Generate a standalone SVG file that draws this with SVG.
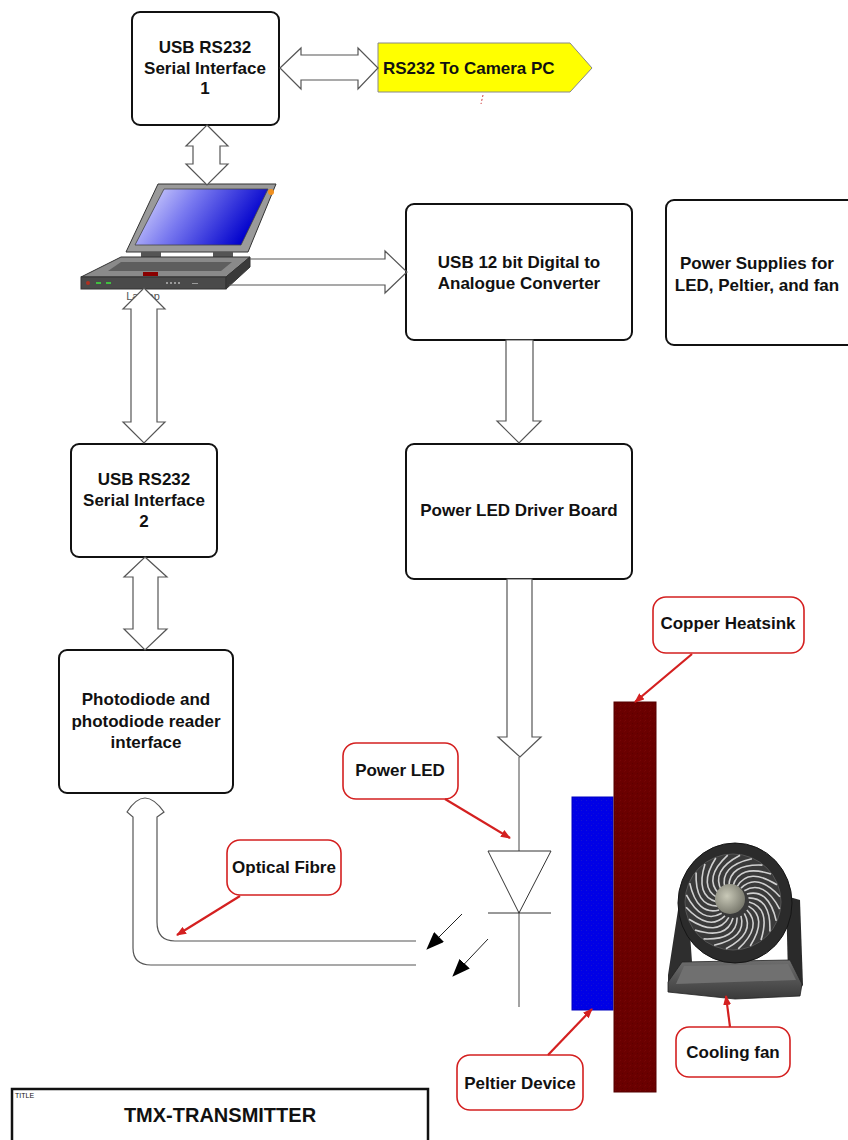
<svg xmlns="http://www.w3.org/2000/svg" xmlns:xlink="http://www.w3.org/1999/xlink" width="848" height="1140" viewBox="0 0 848 1140">
  <style>
    .box { fill: #ffffff; stroke: #111111; stroke-width: 2; }
    .lbl { font-family: "Liberation Sans", Arial, sans-serif; font-weight: bold; font-size: 17px; fill: #111111; text-anchor: middle; }
    .call { fill: #ffffff; stroke: #d42020; stroke-width: 1.6; }
    .ptr { stroke: #d42020; stroke-width: 2.2; fill: none; marker-end: url(#redHead); }
    .fat { fill: #ffffff; stroke: #555555; stroke-width: 1.2; stroke-linejoin: miter; }
    .wire { fill: none; stroke: #555555; stroke-width: 1.2; }
    .emit { stroke: #222222; stroke-width: 1; fill: none; marker-end: url(#blackHead); }
  </style>
  <defs>
    <marker id="redHead" markerWidth="10" markerHeight="8" refX="9" refY="4" orient="auto" markerUnits="userSpaceOnUse">
      <path d="M0,0 L10,4 L0,8 Z" fill="#d42020"/>
    </marker>
    <marker id="blackHead" markerWidth="18" markerHeight="14" refX="17" refY="7" orient="auto" markerUnits="userSpaceOnUse">
      <path d="M0,0 L18,7 L0,14 Z" fill="#000000"/>
    </marker>
    <linearGradient id="screenGrad" x1="0" y1="0" x2="1" y2="0.3">
      <stop offset="0" stop-color="#e8e8ff"/>
      <stop offset="0.45" stop-color="#7a7af0"/>
      <stop offset="1" stop-color="#0000cc"/>
    </linearGradient>
    <radialGradient id="hubGrad" cx="0.4" cy="0.4" r="0.6">
      <stop offset="0" stop-color="#c9c9b8"/>
      <stop offset="1" stop-color="#7c7c70"/>
    </radialGradient>
    <linearGradient id="baseGrad" x1="0" y1="0" x2="0" y2="1">
      <stop offset="0" stop-color="#6e6e6e"/>
      <stop offset="1" stop-color="#3a3a3a"/>
    </linearGradient>
    <pattern id="copperTex" width="5" height="5" patternUnits="userSpaceOnUse">
      <rect width="5" height="5" fill="#6a0000"/>
      <rect x="0" y="0" width="1" height="1" fill="#760606"/>
      <rect x="2" y="3" width="1" height="1" fill="#5c0000"/>
      <rect x="4" y="1" width="1" height="1" fill="#720404"/>
    </pattern>
    <pattern id="peltierTex" width="5" height="5" patternUnits="userSpaceOnUse">
      <rect width="5" height="5" fill="#0000e6"/>
      <rect x="1" y="0" width="1" height="1" fill="#1414d2"/>
      <rect x="3" y="3" width="1" height="1" fill="#0c0cd8"/>
    </pattern>
    <path id="blade" d="M16,0 Q38,6 28,38" fill="none" stroke="#d0d0d0" stroke-width="1.6"/>
  </defs>

  <rect width="848" height="1140" fill="#ffffff"/>

  <!-- interface box 1 -->
  <g id="serial1">
    <rect class="box" x="132" y="12" width="147" height="113" rx="8"/>
    <text class="lbl" x="205" y="53">USB RS232</text>
    <text class="lbl" x="205" y="74">Serial Interface</text>
    <text class="lbl" x="205" y="94">1</text>
  </g>

  <!-- off-page connector to the camera PC -->
  <g id="cameraPC">
    <polygon points="378,43 570,43 592,68 570,92 378,92" fill="#ffff00" stroke="#888888" stroke-width="1"/>
    <text class="lbl" x="383" y="74" style="text-anchor:start">RS232 To Camera PC</text>
    <line x1="483" y1="95" x2="481" y2="104" stroke="#d04040" stroke-width="1" stroke-dasharray="2 2"/>
  </g>

  <!-- laptop -->
  <g id="laptop">
    <polygon points="158,184 276,184 248,252 126,252" fill="#9a9a9a" stroke="#333333" stroke-width="1"/>
    <polygon points="164,189 268,189 241,245 135,245" fill="url(#screenGrad)" stroke="#444444" stroke-width="0.8"/>
    <circle cx="271" cy="192" r="3" fill="#f09020"/>
    <rect x="141" y="252" width="20" height="6" fill="#555555"/>
    <rect x="213" y="252" width="20" height="6" fill="#555555"/>
    <polygon points="121,257 250,257 226,277 81,277" fill="#8a8a8a" stroke="#333333" stroke-width="1"/>
    <polygon points="121,262 232,262 221,271 108,271" fill="#5e5e5e"/>
    <rect x="143" y="272" width="15" height="4" fill="#8a0000"/>
    <rect x="81" y="277" width="145" height="12" fill="#4a4a4a" stroke="#333333" stroke-width="1"/>
    <polygon points="226,277 250,257 250,267 226,289" fill="#3a3a3a" stroke="#333333" stroke-width="1"/>
    <circle cx="88" cy="283" r="2" fill="#b03020"/>
    <rect x="96" y="282" width="5" height="2" fill="#40c040"/>
    <rect x="106" y="282" width="5" height="2" fill="#40c040"/>
    <g fill="#9a9a9a">
      <rect x="166" y="282" width="2" height="2"/>
      <rect x="170" y="282" width="2" height="2"/>
      <rect x="174" y="282" width="2" height="2"/>
      <rect x="178" y="282" width="2" height="2"/>
      <rect x="192" y="283" width="6" height="1"/>
    </g>
    <text x="143" y="300" style="font-family:'Liberation Sans',Arial,sans-serif;font-size:11px;fill:#555555;text-anchor:middle">Laptop</text>
  </g>

  <!-- DAC -->
  <g id="dac">
    <rect class="box" x="406" y="204" width="226" height="136" rx="8"/>
    <text class="lbl" x="519" y="268">USB 12 bit Digital to</text>
    <text class="lbl" x="519" y="289">Analogue Converter</text>
  </g>

  <!-- power supplies -->
  <g id="supplies">
    <rect class="box" x="666" y="200" width="200" height="145" rx="8"/>
    <text class="lbl" x="757" y="269">Power Supplies for</text>
    <text class="lbl" x="757" y="291">LED, Peltier, and fan</text>
  </g>

  <!-- LED driver -->
  <g id="driver">
    <rect class="box" x="406" y="444" width="226" height="135" rx="8"/>
    <text class="lbl" x="519" y="516">Power LED Driver Board</text>
  </g>

  <!-- interface box 2 -->
  <g id="serial2">
    <rect class="box" x="71" y="444" width="146" height="113" rx="8"/>
    <text class="lbl" x="144" y="485">USB RS232</text>
    <text class="lbl" x="144" y="506">Serial Interface</text>
    <text class="lbl" x="144" y="527">2</text>
  </g>

  <!-- photodiode reader -->
  <g id="photodiode">
    <rect class="box" x="59" y="650" width="174" height="143" rx="8"/>
    <text class="lbl" x="146" y="705">Photodiode and</text>
    <text class="lbl" x="146" y="727">photodiode reader</text>
    <text class="lbl" x="146" y="748">interface</text>
  </g>

  <!-- LED symbol -->
  <g id="powerLed">
    <line x1="519" y1="757" x2="519" y2="1007" stroke="#666666" stroke-width="1.2"/>
    <polygon points="488,851 551,851 519,913" fill="#ffffff" stroke="#333333" stroke-width="1"/>
    <line x1="488" y1="913" x2="551" y2="913" stroke="#333333" stroke-width="1"/>
    <line class="emit" x1="462" y1="914" x2="427" y2="949"/>
    <line class="emit" x1="488" y1="939" x2="453" y2="976"/>
  </g>

  <!-- Peltier and heatsink -->
  <g id="peltier">
    <rect x="572" y="797" width="41" height="213" fill="url(#peltierTex)" stroke="#0000c0" stroke-width="1"/>
  </g>
  <g id="heatsink">
    <rect x="614" y="702" width="42" height="390" fill="url(#copperTex)" stroke="#550000" stroke-width="1"/>
  </g>

  <!-- cooling fan -->
  <g id="fan">
    <polygon points="678,910 688,905 692,962 676,980 668,990 668,975" fill="#2e2e2e"/>
    <polygon points="786,896 800,900 803,985 796,994 788,975" fill="#2a2a2a"/>
    <polygon points="682,962 790,960 802,984 800,996 735,999 668,992 668,982" fill="url(#baseGrad)" stroke="#222222" stroke-width="0.8"/>
    <polygon points="684,966 788,964 796,980 676,984" fill="#707070"/>
    <ellipse cx="735" cy="903" rx="57" ry="60" fill="#2b2b2b" stroke="#151515" stroke-width="1"/>
    <circle cx="733" cy="902" r="48" fill="#3a3a3a" stroke="#555555" stroke-width="1"/>
    <g transform="translate(733,902)">
      <use xlink:href="#blade" transform="rotate(0)"/>
      <use xlink:href="#blade" transform="rotate(15)"/>
      <use xlink:href="#blade" transform="rotate(30)"/>
      <use xlink:href="#blade" transform="rotate(45)"/>
      <use xlink:href="#blade" transform="rotate(60)"/>
      <use xlink:href="#blade" transform="rotate(75)"/>
      <use xlink:href="#blade" transform="rotate(90)"/>
      <use xlink:href="#blade" transform="rotate(105)"/>
      <use xlink:href="#blade" transform="rotate(120)"/>
      <use xlink:href="#blade" transform="rotate(135)"/>
      <use xlink:href="#blade" transform="rotate(150)"/>
      <use xlink:href="#blade" transform="rotate(165)"/>
      <use xlink:href="#blade" transform="rotate(180)"/>
      <use xlink:href="#blade" transform="rotate(195)"/>
      <use xlink:href="#blade" transform="rotate(210)"/>
      <use xlink:href="#blade" transform="rotate(225)"/>
      <use xlink:href="#blade" transform="rotate(240)"/>
      <use xlink:href="#blade" transform="rotate(255)"/>
      <use xlink:href="#blade" transform="rotate(270)"/>
      <use xlink:href="#blade" transform="rotate(285)"/>
      <use xlink:href="#blade" transform="rotate(300)"/>
      <use xlink:href="#blade" transform="rotate(315)"/>
      <use xlink:href="#blade" transform="rotate(330)"/>
      <use xlink:href="#blade" transform="rotate(345)"/>
    </g>
    <circle cx="730" cy="899" r="15" fill="url(#hubGrad)"/>
  </g>

  <!-- connectors -->
  <g id="connectors">
    <polygon class="fat" points="280,68 301,48 301,55 358,55 358,48 378,68 358,89 358,80 301,80 301,89"/>
    <polygon class="fat" points="207,125 228,146 220,146 220,164 228,164 207,185 186,164 193,164 193,146 186,146"/>
    <path class="wire" d="M250,259 L385,259 L385,251 L407,272 L385,293 L385,285 L229,285"/>
    <polygon class="fat" points="144,288 165,309 157,309 157,422 165,422 144,443 123,422 131,422 131,309 123,309"/>
    <polygon class="fat" points="145,557 167,577 158,577 158,629 167,629 145,650 124,629 133,629 133,577 124,577"/>
    <polygon class="fat" points="506,340 533,340 533,421 541,421 519,443 497,421 506,421"/>
    <polygon class="fat" points="507,579 532,579 532,737 541,737 520,757 498,737 507,737"/>
    <path class="wire" d="M416,941 L175,941 Q157,941 157,922 L157,817 L164,812 Q154,798 145,798 Q136,798 127,812 L133,817 L133,948 Q133,965 151,965 L416,965"/>
  </g>

  <!-- callouts -->
  <g id="calloutLed">
    <rect class="call" x="343" y="743" width="115" height="56" rx="13"/>
    <text class="lbl" x="400" y="776">Power LED</text>
    <line class="ptr" x1="445" y1="799" x2="510" y2="838"/>
  </g>
  <g id="calloutFibre">
    <rect class="call" x="227" y="840" width="114" height="55" rx="13"/>
    <text class="lbl" x="284" y="873">Optical Fibre</text>
    <line class="ptr" x1="240" y1="896" x2="177" y2="935"/>
  </g>
  <g id="calloutHeatsink">
    <rect class="call" x="653" y="597" width="151" height="56" rx="13"/>
    <text class="lbl" x="728" y="629">Copper Heatsink</text>
    <line class="ptr" x1="692" y1="654" x2="635" y2="702"/>
  </g>
  <g id="calloutPeltier">
    <rect class="call" x="457" y="1055" width="126" height="55" rx="13"/>
    <text class="lbl" x="520" y="1089">Peltier Device</text>
    <line class="ptr" x1="548" y1="1055" x2="592" y2="1009"/>
  </g>
  <g id="calloutFan">
    <rect class="call" x="676" y="1027" width="114" height="50" rx="13"/>
    <text class="lbl" x="733" y="1058">Cooling fan</text>
    <line class="ptr" x1="730" y1="1027" x2="726" y2="996"/>
  </g>

  <!-- title block -->
  <g id="titleBlock">
    <rect x="12" y="1089" width="416" height="80" fill="#ffffff" stroke="#111111" stroke-width="2.5"/>
    <text x="15" y="1098" style="font-family:'Liberation Sans',Arial,sans-serif;font-size:7px;fill:#111111">TITLE</text>
    <text x="220" y="1122" style="font-family:'Liberation Sans',Arial,sans-serif;font-weight:bold;font-size:20px;fill:#111111;text-anchor:middle">TMX-TRANSMITTER</text>
  </g>
</svg>
